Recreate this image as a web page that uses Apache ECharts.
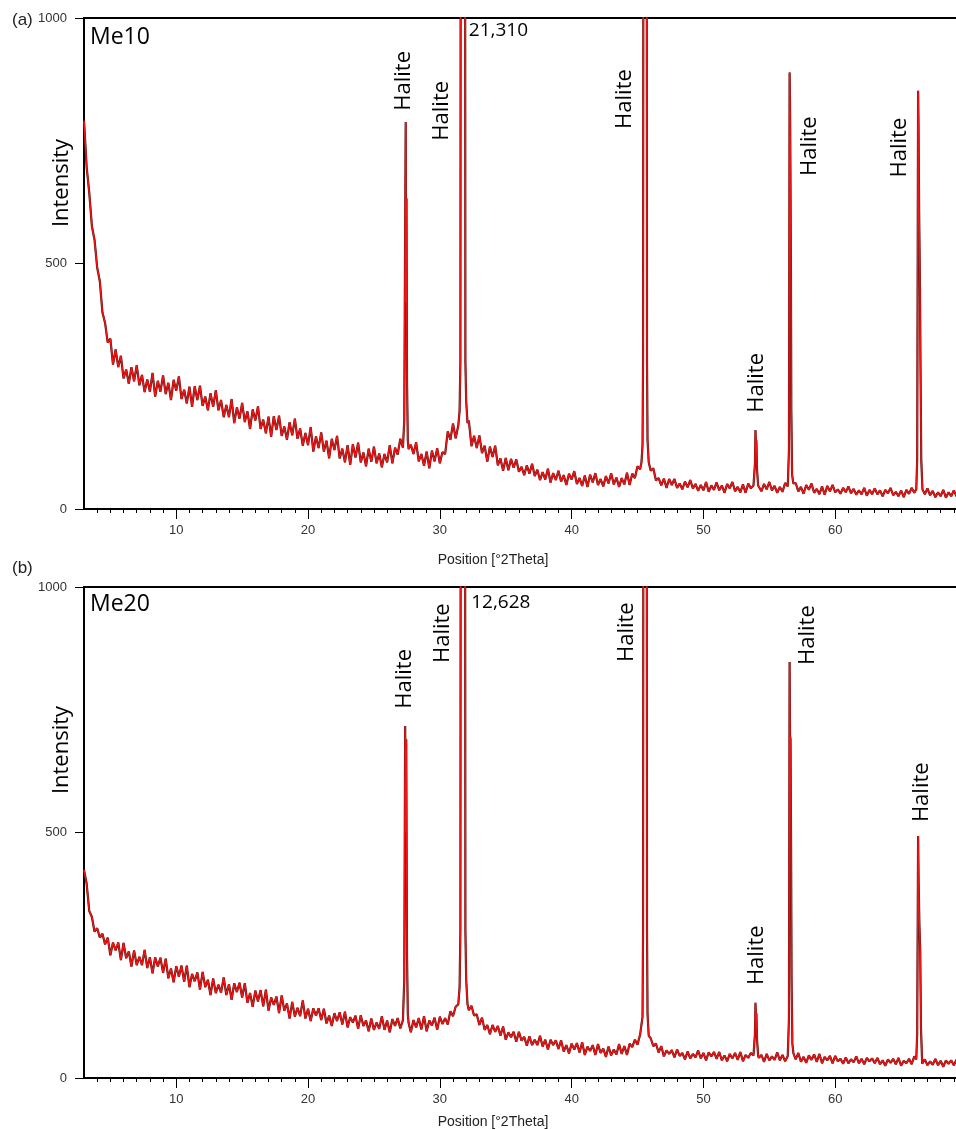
<!DOCTYPE html>
<html><head><meta charset="utf-8">
<script src="https://cdn.jsdelivr.net/npm/echarts@6/dist/echarts.min.js"></script>
<style>html,body{margin:0;padding:0;background:#fff;overflow:hidden}#c{width:956px;height:1130px}</style>
</head><body><div id="c"></div>
<script>
// 2-theta grid of the background pattern: starts at 3°, step 0.2°
const twoThetaStart = 3, twoThetaStep = 0.2;

// Me10 background intensities (3.0 .. 70.0, 5 per degree)
const me10Base = [
791,697,644,576,548, 492,464,400,379,339, 347,294,325,289,312, 266,284,255,289,260,
293,252,273,238,264, 239,277,229,261,239, 272,234,257,222,263, 241,270,224,243,215,
249,208,250,222,251, 210,229,201,236,208, 242,201,222,187,212, 187,224,175,207,184,
216,177,199,163,203, 180,209,163,182,154, 188,147,189,161,190, 149,168,141,177,150,
184,143,164,129,155, 130,167,117,148,124, 156,117,139,103,143, 120,149,103,123,95,
130,90,132,105,135, 95,115,87,123,96, 127,93,113,85,112, 95,130,93,125,111,
143,125,120,118,131, 112,136,97,112,88, 117,83,119,97,124, 93,116,112,158,141,
174,144,160,165,165, 170,180,128,149,124, 150,114,129,96,127, 106,129,89,103,78,
104,79,102,84,101, 76,86,69,89,72, 92,67,80,59,75, 60,82,54,73,59,
78,56,69,49,72, 60,77,51,63,47, 68,45,70,54,73, 49,61,46,67,52,
73,50,64,45,63, 50,74,49,72,63, 87,81,95,95,90, 78,83,58,63,48,
62,43,61,49,61, 43,52,40,56,44, 59,42,51,37,49, 38,55,35,48,39,
54,38,48,33,51, 42,55,36,45,34, 50,33,52,42,48, 46,48,36,51,40,
55,38,47,33,45, 35,53,46,50,44, 53,36,45,31,49, 39,52,33,41,30,
46,29,47,36,49, 34,40,31,43,34, 46,32,41,29,38, 30,43,27,39,30,
42,30,38,26,39, 32,43,28,35,26, 38,24,39,31,43, 33,40,40,43,30,
42,28,37,24,34, 26,39,23,34,26, 38,26,34,22,36, 29
];
// Me20 background intensities (3.0 .. 70.0, 5 per degree)
const me20Base = [
424,396,340,328,298, 305,286,294,272,286, 250,276,260,276,240, 275,244,258,227,260,
230,247,230,261,224, 246,213,246,227,245, 214,243,203,223,195, 228,206,229,196,229,
185,212,197,215,180, 216,185,200,169,203, 173,190,174,205,169, 191,159,193,175,194,
164,193,153,173,145, 178,156,179,146,180, 137,164,149,166,132, 168,137,152,121,155,
125,143,126,158,121, 141,116,142,127,142, 118,141,111,127,106, 132,116,134,109,135,
103,124,113,127,100, 128,106,117,95,121, 98,113,100,126,98, 117,93,120,106,122,
101,118,110,110,93, 118,103,122,99,126, 95,117,107,123,98, 125,110,122,109,136,
126,145,150,150,150, 150,138,147,127,130, 108,123,98,108,89, 108,94,106,86,105,
78,93,83,94,74, 94,76,84,66,85, 67,78,67,86,64, 78,58,78,67,77,
59,77,54,67,50, 70,58,71,52,73, 47,64,55,67,47, 69,51,60,43,64,
46,58,48,69,49, 65,47,70,63,78, 68,89,85,85,80, 81,65,70,52,65,
44,56,49,57,42, 58,45,51,38,54, 40,49,42,56,40, 51,36,52,44,53,
39,53,36,46,34, 49,40,51,37,53, 34,47,41,51,46, 46,41,47,33,49,
36,44,37,52,36, 47,34,45,50,55, 38,51,33,43,31, 46,37,48,33,49,
30,43,36,45,30, 45,34,39,29,42, 30,38,32,44,30, 39,28,41,34,40,
30,41,28,36,25, 38,31,39,28,41, 25,35,30,39,28, 44,40,40,29,38,
26,34,27,39,26, 35,23,36,29,36, 26,37,24,31,21, 34
];

// Halite reflections, [2theta, intensity] points across each peak
const me10Peaks = [
  [[27.22,125],[27.30,180],[27.36,520],[27.41,788],[27.44,420],[27.47,633],[27.51,260],[27.57,140],[27.63,122]],
  [[31.40,170],[31.50,200],[31.56,300],[31.58,1100],[31.75,21310],[31.92,1100],[31.94,300],[32.00,220],[32.10,175]],
  [[45.30,95],[45.38,130],[45.42,300],[45.44,1100],[45.57,8000],[45.70,1100],[45.72,300],[45.76,140],[45.85,95]],
  [[53.85,48],[53.91,92],[53.95,161],[53.99,128],[54.02,140],[54.07,80],[54.15,48]],
  [[56.42,50],[56.49,120],[56.54,889],[56.57,827],[56.60,700],[56.64,490],[56.67,200],[56.73,70],[56.82,52]],
  [[66.15,40],[66.22,100],[66.29,852],[66.32,786],[66.37,600],[66.43,455],[66.47,300],[66.53,100],[66.62,40]]
];
const me20Peaks = [
  [[27.22,115],[27.30,200],[27.37,717],[27.41,500],[27.45,690],[27.51,250],[27.57,130],[27.63,112]],
  [[31.40,150],[31.50,185],[31.56,300],[31.58,1100],[31.75,12628],[31.92,1100],[31.94,300],[32.00,200],[32.10,150]],
  [[45.30,86],[45.38,125],[45.42,300],[45.44,1100],[45.57,7000],[45.70,1100],[45.72,300],[45.76,130],[45.85,86]],
  [[53.85,46],[53.91,90],[53.95,153],[53.99,122],[54.02,132],[54.07,78],[54.15,46]],
  [[56.42,48],[56.49,120],[56.54,847],[56.57,698],[56.61,690],[56.65,480],[56.69,200],[56.75,70],[56.83,50]],
  [[66.15,38],[66.22,90],[66.29,493],[66.33,400],[66.39,311],[66.45,260],[66.51,100],[66.59,38]]
];

const xMajorTicks = [10,20,30,40,50,60];
const xMinorTicks = [4,5,6,7,8,9,11,12,13,14,15,16,17,18,19,21,22,23,24,25,26,27,28,29,31,32,33,34,35,36,37,38,39,41,42,43,44,45,46,47,48,49,51,52,53,54,55,56,57,58,59,61,62,63,64,65,66,67,68,69];
const yTicks = [0,500,1000];

// annotation anchors [2theta, intensity, text]
const me10Labels = [[27.28,872,'Halite'],[30.16,811,'Halite'],[44.05,835,'Halite'],[54.06,257,'Halite'],[58.08,739,'Halite'],[64.91,736,'Halite']];
const me20Labels = [[27.33,813,'Halite'],[30.24,906,'Halite'],[44.20,908,'Halite'],[54.06,250,'Halite'],[57.93,902,'Halite'],[66.58,582,'Halite']];
const me10Max = [[32.16,974,'21,310']];
const me20Max = [[32.34,968,'12,628']];

function buildLine(base, peaks) {
  const pts = [];
  base.forEach((v, i) => {
    const x = +(twoThetaStart + i * twoThetaStep).toFixed(2);
    if (!peaks.some(p => x >= p[0][0] && x <= p[p.length - 1][0])) pts.push([x, v]);
  });
  peaks.forEach(p => p.forEach(q => pts.push(q)));
  pts.sort((a, b) => a[0] - b[0]);
  return pts;
}
const me10 = buildLine(me10Base, me10Peaks);
const me20 = buildLine(me20Base, me20Peaks);

const chart = echarts.init(document.getElementById('c'), null, {renderer: 'canvas'});
const tickFont = {fontFamily: 'Liberation Sans', fontSize: 13, color: '#333'};
const grids = [
  {left: 84, top: 18, width: 883, height: 491},
  {left: 84, top: 587, width: 883, height: 491}
].map(g => Object.assign(g, {show: true, borderColor: '#000', borderWidth: 2, backgroundColor: '#fff',
  containLabel: false, outerBoundsMode: 'none'}));

const xAxes = [], yAxes = [];
[0, 1].forEach(gi => {
  xAxes.push({
    type: 'value', gridIndex: gi, min: 3, max: 70, position: 'bottom',
    axisLine: {show: true, lineStyle: {color: '#000', width: 2}},
    axisTick: {show: true, customValues: xMinorTicks, length: 4, lineStyle: {color: '#000', width: 1}},
    axisLabel: Object.assign({show: true, customValues: xMajorTicks, margin: 15, formatter: v => String(v)}, tickFont),
    splitLine: {show: false}
  });
  xAxes.push({
    type: 'value', gridIndex: gi, min: 3, max: 70, position: 'bottom', offset: 0,
    axisLine: {show: false},
    axisTick: {show: true, customValues: xMajorTicks, length: 10, lineStyle: {color: '#000', width: 1}},
    axisLabel: {show: false}, splitLine: {show: false}
  });
  yAxes.push({
    type: 'value', gridIndex: gi, min: 0, max: 1000,
    axisLine: {show: true, lineStyle: {color: '#000', width: 2}},
    axisTick: {show: true, customValues: yTicks, length: 9, lineStyle: {color: '#000', width: 1}},
    axisLabel: Object.assign({show: true, customValues: yTicks, margin: 17, formatter: v => String(v)}, tickFont),
    splitLine: {show: false}
  });
});

function lineSeries(data, gi) {
  return [
    {type: 'line', xAxisIndex: gi * 2, yAxisIndex: gi, data, showSymbol: false, symbol: 'none',
     clip: true, sampling: null, lineStyle: {color: '#5a1010', width: 2.2}, z: 2, silent: true},
    {type: 'line', xAxisIndex: gi * 2, yAxisIndex: gi, data, showSymbol: false, symbol: 'none',
     clip: true, sampling: null, lineStyle: {color: '#f01414', width: 1.4}, z: 3, silent: true}
  ];
}
function labelSeries(data, gi, rotate, pos, size) {
  return {
    type: 'scatter', xAxisIndex: gi * 2, yAxisIndex: gi, data, symbolSize: 1, z: 5, silent: true,
    itemStyle: {color: 'rgba(0,0,0,0)', opacity: 1},
    label: {show: true, formatter: p => p.value[2], rotate, position: pos, distance: 0, opacity: 1,
      fontFamily: 'Open Sans', fontSize: size, color: '#000', textBorderWidth: 0}
  };
}

const bigText = (text, x, y, size, rot, align) => ({
  type: 'text', x, y, rotation: rot || 0,
  style: {text, fontFamily: 'Open Sans', fontSize: size, fill: '#000', align: align || 'left', verticalAlign: 'middle'}
});
const smallText = (text, x, y, size, align) => ({
  type: 'text', x, y,
  style: {text, fontFamily: 'Liberation Sans', fontSize: size, fill: '#222', align: align || 'left', verticalAlign: 'middle'}
});

chart.setOption({
  animation: false,
  backgroundColor: '#fff',
  grid: grids,
  xAxis: xAxes,
  yAxis: yAxes,
  series: [
    ...lineSeries(me10, 0), ...lineSeries(me20, 1),
    labelSeries(me10Labels, 0, 90, 'inside', 22),
    labelSeries(me20Labels, 1, 90, 'inside', 22),
    labelSeries(me10Max, 0, 0, 'right', 19),
    labelSeries(me20Max, 1, 0, 'right', 19)
  ],
  graphic: [
    smallText('(a)', 12, 20, 17), smallText('(b)', 12, 568, 17),
    bigText('Me10', 90, 37, 23), bigText('Me20', 90, 604, 23),
    bigText('Intensity', 62, 183, 22, Math.PI / 2, 'center'),
    bigText('Intensity', 62, 750, 22, Math.PI / 2, 'center'),
    smallText('Position [°2Theta]', 493, 560, 14, 'center'),
    smallText('Position [°2Theta]', 493, 1122, 14, 'center')
  ]
});
</script>
</body></html>
